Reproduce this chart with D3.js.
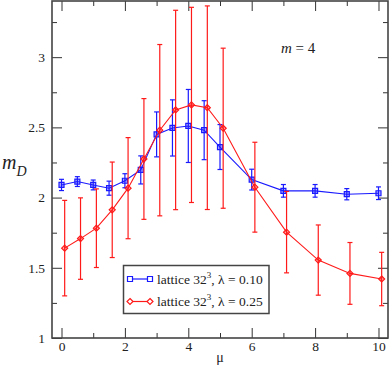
<!DOCTYPE html>
<html lang="en">
<head>
<meta charset="UTF-8">
<title>m_D vs mu</title>
<script src="https://cdnjs.cloudflare.com/ajax/libs/d3/7.8.5/d3.min.js"></script>
<style>
    body { margin: 0; background: #fff; }
    svg { display: block; font-family: "Liberation Serif", "DejaVu Serif", serif; }
    .axis path { display: none; }
    .axis line { stroke: #333; stroke-width: 1; }
    .axis text { font-family: "Liberation Serif", serif; font-size: 13.5px; fill: #222; }
</style>
</head>
<body>
<svg id="chart" width="390" height="368"></svg>
<script>
// lambda = 0.10 series (blue squares)
const muBlue   = [0, 0.5, 1, 1.5, 2, 2.5, 3, 3.5, 4, 4.5, 5, 6, 7, 8, 9, 10];
const mdBlue   = [2.09, 2.114, 2.09, 2.067, 2.12, 2.197, 2.45, 2.496, 2.51, 2.48, 2.36, 2.128, 2.048, 2.048, 2.024, 2.031];
const errBlue  = [0.04, 0.035, 0.035, 0.05, 0.05, 0.1, 0.16, 0.2, 0.26, 0.21, 0.16, 0.074, 0.045, 0.045, 0.04, 0.045];

// lambda = 0.25 series (red diamonds), shifted by 0.1 in mu
const muRed    = [0.1, 0.6, 1.1, 1.6, 2.1, 2.6, 3.1, 3.6, 4.1, 4.6, 5.1, 6.1, 7.1, 8.1, 9.1, 10.1];
const mdRed    = [1.64, 1.708, 1.782, 1.913, 2.067, 2.275, 2.48, 2.624, 2.66, 2.64, 2.494, 2.074, 1.754, 1.555, 1.46, 1.42];
const errRed   = [0.34, 0.29, 0.28, 0.34, 0.36, 0.43, 0.61, 0.71, 0.695, 0.725, 0.57, 0.32, 0.29, 0.25, 0.22, 0.19];

const xMajor = [0, 2, 4, 6, 8, 10];
const xMinor = [1, 3, 5, 7, 9];
const yMajor = [1, 1.5, 2, 2.5, 3];
const yMinor = [1.25, 1.75, 2.25, 2.75, 3.25];

const svg = d3.select("#chart");
const plotL = 52, plotR = 388, plotT = 1, plotB = 338;

const x = d3.scaleLinear().domain([-0.3, 10.3]).range([plotL, plotR]);
const y = d3.scaleLinear().domain([1, 3.4]).range([plotB, plotT]);

// axes with inward ticks on all four sides
function addAxis(axis, tx, ty, labels) {
    const g = svg.append("g").attr("class", "axis")
        .attr("transform", `translate(${tx},${ty})`).call(axis);
    if (!labels) g.selectAll("text").remove();
    return g;
}
addAxis(d3.axisBottom(x).tickValues(xMajor).tickSize(-10).tickPadding(3).tickFormat(d3.format("d")), 0, plotB, true);
addAxis(d3.axisBottom(x).tickValues(xMinor).tickSize(-5), 0, plotB, false);
addAxis(d3.axisTop(x).tickValues(xMajor).tickSize(-10), 0, plotT, false);
addAxis(d3.axisTop(x).tickValues(xMinor).tickSize(-5), 0, plotT, false);
addAxis(d3.axisLeft(y).tickValues(yMajor).tickSize(-10).tickPadding(7).tickFormat(d => d), plotL, 0, true);
addAxis(d3.axisLeft(y).tickValues(yMinor).tickSize(-5), plotL, 0, false);
addAxis(d3.axisRight(y).tickValues(yMajor).tickSize(-10), plotR, 0, false);
addAxis(d3.axisRight(y).tickValues(yMinor).tickSize(-5), plotR, 0, false);

// frame
svg.append("rect")
    .attr("x", plotL).attr("y", plotT)
    .attr("width", plotR - plotL).attr("height", plotB - plotT)
    .attr("fill", "none").attr("stroke", "#444").attr("stroke-width", 1.6);

function drawSeries(mu, md, err, color, marker) {
    const pts = mu.map((m, i) => ({ m, v: md[i], e: err[i] }));
    const g = svg.append("g");
    const bars = g.selectAll("g.eb").data(pts).enter().append("g")
        .attr("stroke", color).attr("stroke-width", 1.2);
    bars.append("line")
        .attr("x1", d => x(d.m)).attr("x2", d => x(d.m))
        .attr("y1", d => y(d.v - d.e)).attr("y2", d => y(d.v + d.e));
    bars.append("line")
        .attr("x1", d => x(d.m) - 2.5).attr("x2", d => x(d.m) + 2.5)
        .attr("y1", d => y(d.v + d.e)).attr("y2", d => y(d.v + d.e));
    bars.append("line")
        .attr("x1", d => x(d.m) - 2.5).attr("x2", d => x(d.m) + 2.5)
        .attr("y1", d => y(d.v - d.e)).attr("y2", d => y(d.v - d.e));

    g.append("path").datum(pts)
        .attr("fill", "none").attr("stroke", color).attr("stroke-width", 1.1)
        .attr("d", d3.line().x(d => x(d.m)).y(d => y(d.v)));

    g.selectAll("path.mk").data(pts).enter().append("path")
        .attr("transform", d => `translate(${x(d.m)},${y(d.v)})`)
        .attr("d", marker)
        .attr("fill", color).attr("fill-opacity", 0.35)
        .attr("stroke", color).attr("stroke-width", 1.2);
}

const squareMk = "M-2.5,-2.5H2.5V2.5H-2.5Z";
const diamondMk = "M0,-3L3,0L0,3L-3,0Z";
drawSeries(muBlue, mdBlue, errBlue, "#1a1aff", squareMk);
drawSeries(muRed, mdRed, errRed, "#ff1a1a", diamondMk);

// legend
const lg = svg.append("g");
lg.append("rect").attr("x", 123.5).attr("y", 265.5).attr("width", 145.5).attr("height", 48)
    .attr("fill", "#fff").attr("stroke", "#444").attr("stroke-width", 1.5);
const legendItems = [
    { color: "#1a1aff", mk: squareMk, lam: "0.10", yy: 279 },
    { color: "#ff1a1a", mk: diamondMk, lam: "0.25", yy: 301.5 }
];
legendItems.forEach(it => {
    lg.append("line").attr("x1", 130).attr("x2", 150).attr("y1", it.yy).attr("y2", it.yy)
        .attr("stroke", it.color).attr("stroke-width", 1.2);
    [130, 150].forEach(px => {
        lg.append("path").attr("transform", `translate(${px},${it.yy})`).attr("d", it.mk)
            .attr("fill", "#fff").attr("stroke", it.color).attr("stroke-width", 1.2);
    });
    const t = lg.append("text").attr("x", 157).attr("y", it.yy + 4.5)
        .attr("font-size", 13.5).attr("fill", "#222");
    t.append("tspan").text("lattice 32");
    t.append("tspan").attr("font-size", 9).attr("dy", -6).text("3");
    t.append("tspan").attr("dy", 6).text(", λ = " + it.lam);
});

// annotation m = 4
const ann = svg.append("text").attr("x", 281).attr("y", 53).attr("font-size", 15).attr("fill", "#222");
ann.append("tspan").attr("font-style", "italic").text("m");
ann.append("tspan").text(" = 4");

// axis titles
const yl = svg.append("text").attr("x", 2).attr("y", 169).attr("fill", "#222");
yl.append("tspan").attr("font-style", "italic").attr("font-size", 20).text("m");
yl.append("tspan").attr("font-style", "italic").attr("font-size", 14).attr("dy", 7).text("D");

svg.append("text").attr("x", (plotL + plotR) / 2).attr("y", 362).attr("text-anchor", "middle")
    .attr("font-size", 14).attr("fill", "#222").text("μ");
</script>
</body>
</html>
